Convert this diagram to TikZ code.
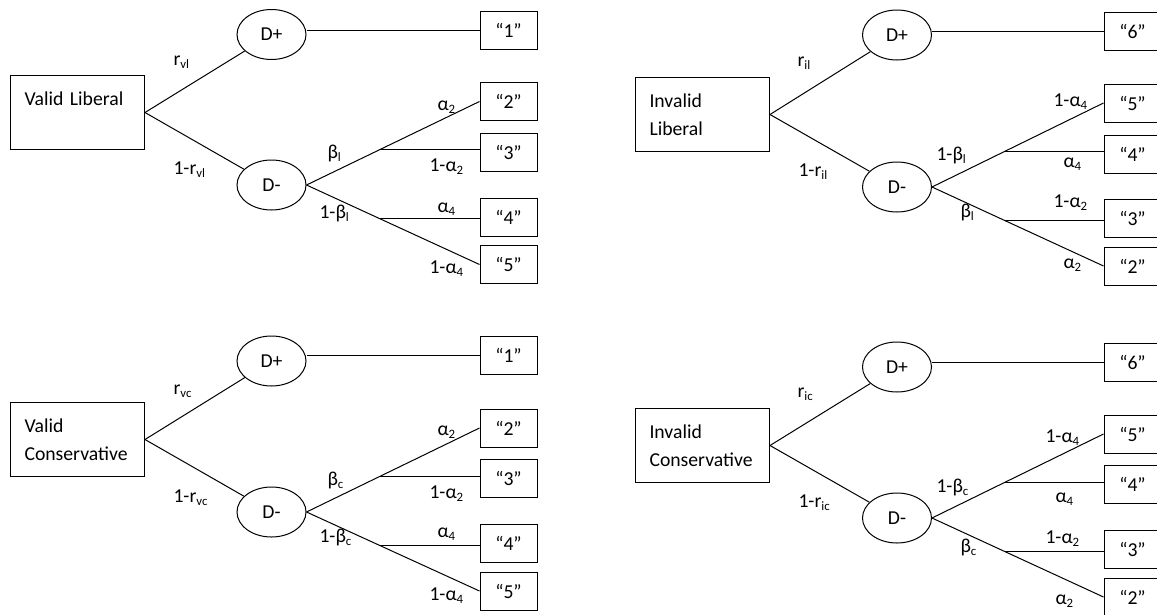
\documentclass[tikz,border=0pt]{standalone}
\usepackage{fontspec}
\usepackage{graphicx}
\setmainfont{Carlito}
\usetikzlibrary{shapes.geometric,calc}
\newcommand{\lsub}[1]{\raisebox{-3pt}{\fontsize{12.8pt}{13pt}\selectfont #1}}
\tikzset{
  every node/.style={font=\fontsize{19.7pt}{28pt}\selectfont},
  rootbox/.style={draw, rectangle, anchor=north west, minimum height=74pt, text width=106pt, inner xsep=14pt, inner ysep=0pt, align=left},
  chance/.style={draw, ellipse, minimum width=69pt, minimum height=50pt, inner sep=0pt},
  leaf/.style={draw, rectangle, minimum width=57pt, minimum height=38pt, inner sep=0pt},
  lab/.style={anchor=base west, inner sep=0pt},
}
\begin{document}
\begin{tikzpicture}[x=1pt, y=-1pt, line width=1pt]
\path[use as bounding box] (0,0) rectangle (1157,614);
\clip (0,0) rectangle (1157,614);

% ---------- Valid Liberal ----------
\node[rootbox] (vlbox) at (10,75) {Valid Liberal\\\mbox{}};
\node[chance] (vlp) at (271.5,34.5) {D+};
\node[chance] (vlm) at (271.5,185) {D-};
\node[leaf] (vl1) at (508.5,30) {“1”};
\node[leaf] (vl2) at (508.5,101.5) {“2”};
\node[leaf] (vl3) at (508.5,152) {“3”};
\node[leaf] (vl4) at (508.5,217) {“4”};
\node[leaf] (vl5) at (508.5,264.5) {“5”};
\draw (vlbox.east) -- (vlp);
\draw (vlbox.east) -- (vlm);
\draw (vlp.east |- vl1.west) -- (vl1.west);
\draw (vlm.east) -- (vl2.west);
\draw (vlm.east) -- (vl5.west);
\coordinate (vlj1) at ($(vlm.east)!0.425!(vl2.west)$);
\coordinate (vlj2) at ($(vlm.east)!0.425!(vl5.west)$);
\draw (vlj1) -- (vlj1 -| vl3.west);
\draw (vlj2) -- (vlj2 -| vl4.west);
\node[lab] (vla) at (173,65) {r\lsub{vl}};
\node[lab] (vlb) at (173,174) {1-r\lsub{vl}};
\node[lab] (vlc) at (327,158) {β\lsub{l}};
\node[lab] (vld) at (319,218) {1-β\lsub{l}};
\node[lab] (vle) at (437,110) {α\lsub{2}};
\node[lab] (vlf) at (429,171) {1-α\lsub{2}};
\node[lab] (vlg) at (437,212) {α\lsub{4}};
\node[lab] (vlh) at (429,273) {1-α\lsub{4}};

% ---------- Valid Conservative ----------
\node[rootbox] (vcbox) at (10,402) {Valid\\Conservative};
\node[chance] (vcp) at (271.5,361) {D+};
\node[chance] (vcm) at (271.5,512) {D-};
\node[leaf] (vc1) at (508.5,355.5) {“1”};
\node[leaf] (vc2) at (508.5,428) {“2”};
\node[leaf] (vc3) at (508.5,478) {“3”};
\node[leaf] (vc4) at (508.5,543) {“4”};
\node[leaf] (vc5) at (508.5,591) {“5”};
\draw (vcbox.east) -- (vcp);
\draw (vcbox.east) -- (vcm);
\draw (vcp.east |- vc1.west) -- (vc1.west);
\draw (vcm.east) -- (vc2.west);
\draw (vcm.east) -- (vc5.west);
\coordinate (vcj1) at ($(vcm.east)!0.425!(vc2.west)$);
\coordinate (vcj2) at ($(vcm.east)!0.425!(vc5.west)$);
\draw (vcj1) -- (vcj1 -| vc3.west);
\draw (vcj2) -- (vcj2 -| vc4.west);
\node[lab] (vca) at (173,394) {r\lsub{vc}};
\node[lab] (vcb) at (173,502) {1-r\lsub{vc}};
\node[lab] (vcc) at (327,485) {β\lsub{c}};
\node[lab] (vcd) at (319,542) {1-β\lsub{c}};
\node[lab] (vce) at (437,435) {α\lsub{2}};
\node[lab] (vcf) at (429,498) {1-α\lsub{2}};
\node[lab] (vcg) at (437,537) {α\lsub{4}};
\node[lab] (vch) at (429,600) {1-α\lsub{4}};

% ---------- Invalid Liberal ----------
\node[rootbox] (ilbox) at (635,77) {Invalid\\Liberal};
\node[chance] (ilp) at (897,35) {D+};
\node[chance] (ilm) at (897,187) {D-};
\node[leaf] (il6) at (1132.5,31) {“6”};
\node[leaf] (il5) at (1132.5,103) {“5”};
\node[leaf] (il4) at (1132.5,154) {“4”};
\node[leaf] (il3) at (1132.5,218.5) {“3”};
\node[leaf] (il2) at (1132.5,266) {“2”};
\draw (ilbox.east) -- (ilp);
\draw (ilbox.east) -- (ilm);
\draw (ilp.east |- il6.west) -- (il6.west);
\draw (ilm.east) -- (il5.west);
\draw (ilm.east) -- (il2.west);
\coordinate (ilj1) at ($(ilm.east)!0.424!(il5.west)$);
\coordinate (ilj2) at ($(ilm.east)!0.424!(il2.west)$);
\draw (ilj1) -- (ilj1 -| il4.west);
\draw (ilj2) -- (ilj2 -| il3.west);
\node[lab] (ila) at (797,66) {r\lsub{il}};
\node[lab] (ilb) at (798,176) {1-r\lsub{il}};
\node[lab] (ilc) at (936,160) {1-β\lsub{l}};
\node[lab] (ild) at (960,217) {β\lsub{l}};
\node[lab] (ile) at (1053,106) {1-α\lsub{4}};
\node[lab] (ilf) at (1063,167) {α\lsub{4}};
\node[lab] (ilg) at (1053,207) {1-α\lsub{2}};
\node[lab] (ilh) at (1063,268) {α\lsub{2}};

% ---------- Invalid Conservative ----------
\node[rootbox] (icbox) at (635,408) {Invalid\\Conservative};
\node[chance] (icp) at (897,367) {D+};
\node[chance] (icm) at (897,518) {D-};
\node[leaf] (ic6) at (1132.5,362) {“6”};
\node[leaf] (ic5) at (1132.5,434) {“5”};
\node[leaf] (ic4) at (1132.5,484.5) {“4”};
\node[leaf] (ic3) at (1132.5,549) {“3”};
\node[leaf] (ic2) at (1132.5,597) {“2”};
\draw (icbox.east) -- (icp);
\draw (icbox.east) -- (icm);
\draw (icp.east |- ic6.west) -- (ic6.west);
\draw (icm.east) -- (ic5.west);
\draw (icm.east) -- (ic2.west);
\coordinate (icj1) at ($(icm.east)!0.424!(ic5.west)$);
\coordinate (icj2) at ($(icm.east)!0.424!(ic2.west)$);
\draw (icj1) -- (icj1 -| ic4.west);
\draw (icj2) -- (icj2 -| ic3.west);
\node[lab] (ica) at (797,397) {r\lsub{ic}};
\node[lab] (icb) at (798,507) {1-r\lsub{ic}};
\node[lab] (icc) at (936,492) {1-β\lsub{c}};
\node[lab] (icd) at (960,552) {β\lsub{c}};
\node[lab] (ice) at (1045,442) {1-α\lsub{4}};
\node[lab] (icf) at (1055,502) {α\lsub{4}};
\node[lab] (icg) at (1045,543) {1-α\lsub{2}};
\node[lab] (ich) at (1055,604) {α\lsub{2}};
\end{tikzpicture}
\end{document}
